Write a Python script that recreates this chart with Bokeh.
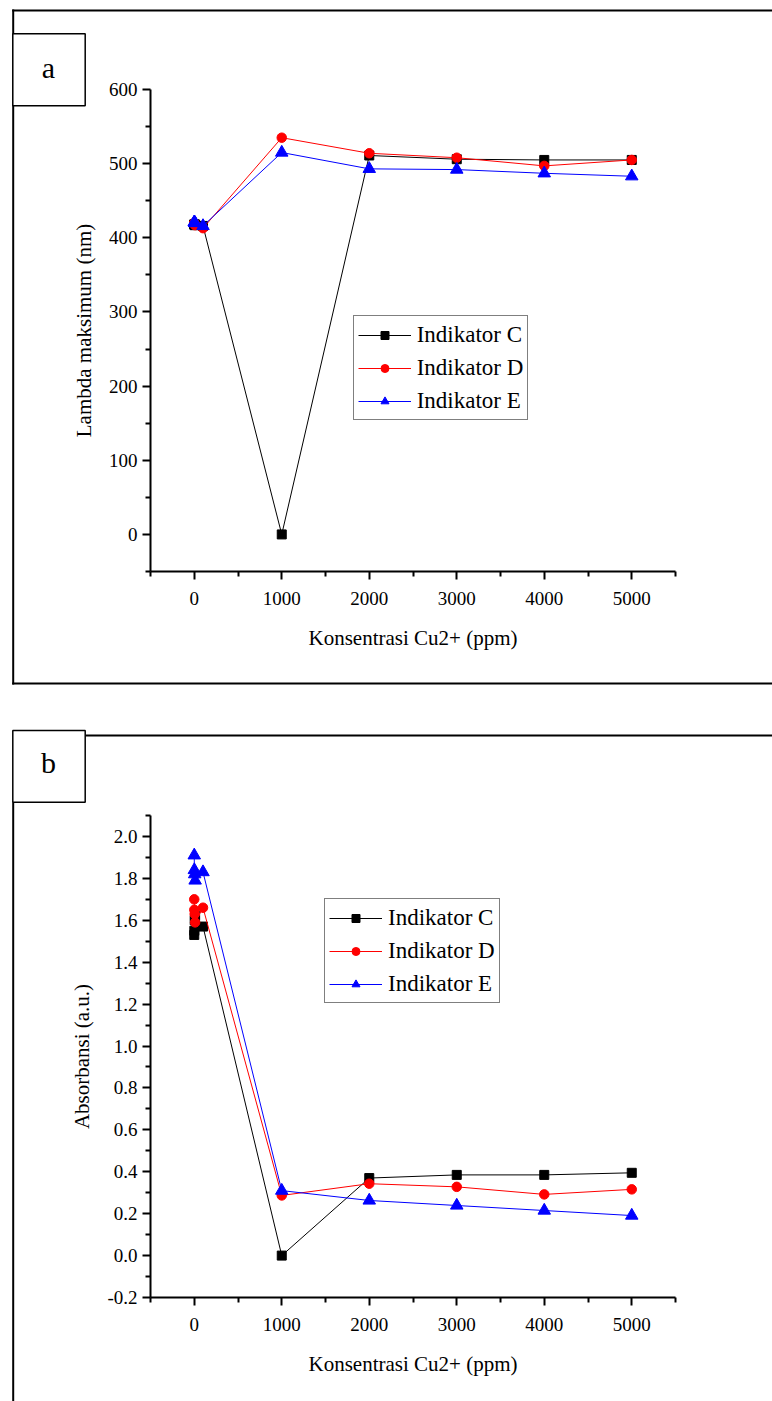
from bokeh.plotting import figure
from bokeh.models import (Range1d, FixedTicker, PrintfTickFormatter, Legend,
                          LegendItem)
from bokeh.core.properties import value
from bokeh.layouts import column
from bokeh.embed import file_html
from bokeh.resources import INLINE

# ---------------- data ----------------
conc = [0, 1, 5, 10, 100, 1000, 2000, 3000, 4000, 5000]

lambda_c = [418, 418, 417, 418, 416, 0, 511, 506, 505, 505]
lambda_d = [420, 419, 418, 417, 413, 535, 514, 508, 497, 505]
lambda_e = [421, 421, 420, 420, 416, 515, 493, 492, 487, 483]

abs_c = [1.53, 1.55, 1.60, 1.62, 1.57, 0.0, 0.37, 0.385, 0.385, 0.395]
abs_d = [1.70, 1.65, 1.63, 1.59, 1.66, 0.287, 0.343, 0.328, 0.292, 0.316]
abs_e = [1.91, 1.84, 1.82, 1.79, 1.83, 0.31, 0.263, 0.239, 0.215, 0.191]

series_names = ["Indikator C", "Indikator D", "Indikator E"]
series_colors = ["black", "red", "blue"]
series_markers = ["square", "circle", "triangle"]
marker_sizes = [9, 9.5, 12.5]

x_bounds = (-500, 5500)
x_major = [0, 1000, 2000, 3000, 4000, 5000]
x_minor = [-500, 500, 1500, 2500, 3500, 4500, 5500]
ya_bounds = (-50, 600)
ya_major = [0, 100, 200, 300, 400, 500, 600]
ya_minor = [-50, 50, 150, 250, 350, 450, 550]
yb_bounds = (-0.2, 2.1)
yb_major = [-0.2, 0.0, 0.2, 0.4, 0.6, 0.8, 1.0, 1.2, 1.4, 1.6, 1.8, 2.0]
yb_minor = [-0.1, 0.1, 0.3, 0.5, 0.7, 0.9, 1.1, 1.3, 1.5, 1.7, 1.9, 2.1]

FONT = "Liberation Serif"
W = 772
LEFT, RIGHT = 150, 675   # plot-area pixel edges (x)


def make_panel(height, top, bottom, ybounds, ymaj, ymin, yfmt, ylabel,
               ys, legend_loc, letter, letter_pos, decos):
    # ranges chosen so that the data area sits at the wanted pixels while the
    # frame covers the whole canvas (axes are fixed inside it)
    sx = (x_bounds[1] - x_bounds[0]) / (RIGHT - LEFT)
    xr = Range1d(x_bounds[0] - LEFT * sx, x_bounds[1] + (W - RIGHT) * sx)
    sy = (ybounds[1] - ybounds[0]) / (bottom - top)
    yr = Range1d(ybounds[0] - (height - bottom) * sy, ybounds[1] + top * sy)

    p = figure(width=W, height=height, output_backend="svg",
               toolbar_location=None, x_range=xr, y_range=yr,
               min_border=0)
    p.outline_line_color = None
    p.grid.visible = False
    p.background_fill_color = None
    p.border_fill_color = None
    p.extra_x_ranges = {"cx": Range1d(0, W)}
    p.extra_y_ranges = {"cy": Range1d(height, 0)}

    p.xaxis.fixed_location = ybounds[0]
    p.yaxis.fixed_location = x_bounds[0]
    p.xaxis.bounds = x_bounds
    p.yaxis.bounds = ybounds
    p.xaxis.ticker = FixedTicker(ticks=x_major, minor_ticks=x_minor)
    p.yaxis.ticker = FixedTicker(ticks=ymaj, minor_ticks=ymin)
    p.yaxis.formatter = PrintfTickFormatter(format=yfmt)
    p.xaxis.formatter = PrintfTickFormatter(format="%d")
    p.xaxis.axis_label = "Konsentrasi Cu2+ (ppm)"
    p.yaxis.axis_label = ylabel
    for ax in (p.xaxis, p.yaxis):
        ax.axis_line_width = 2
        ax.axis_line_color = "black"
        ax.major_tick_line_width = 2
        ax.major_tick_line_color = "black"
        ax.minor_tick_line_width = 2
        ax.minor_tick_line_color = "black"
        ax.major_tick_out = 8
        ax.major_tick_in = 0
        ax.minor_tick_out = 5
        ax.minor_tick_in = 0
        ax.major_label_text_font = FONT
        ax.major_label_text_font_size = "19px"
        ax.major_label_text_color = "black"
        ax.axis_label_text_font = FONT
        ax.axis_label_text_font_size = "21px"
        ax.axis_label_text_font_style = "normal"
        ax.axis_label_text_color = "black"
    p.xaxis.major_label_standoff = 12
    p.xaxis.axis_label_standoff = 18
    p.yaxis.major_label_standoff = 5
    p.yaxis.axis_label_standoff = 10

    # decorations (canvas pixel coordinates, y downward)
    for (l, t, r, b, fill, lw) in decos:
        p.quad(left=l, right=r, top=t, bottom=b, x_range_name="cx",
               y_range_name="cy", fill_color=fill,
               line_color="black" if lw else None, line_width=lw if lw else 1)
    p.text(x=[letter_pos[0]], y=[letter_pos[1]], text=[letter],
           x_range_name="cx", y_range_name="cy", text_align="center",
           text_baseline="middle", text_font=value(FONT),
           text_font_size="30px", text_color="black")

    items = []
    for name, col, mk, ms, vals in zip(series_names, series_colors,
                                       series_markers, marker_sizes, ys):
        lr = p.line(conc, vals, line_color=col, line_width=1)
        mr = p.scatter(conc, vals, marker=mk, size=ms, fill_color=col,
                       line_color=col)
        items.append(LegendItem(label=name, renderers=[lr, mr]))

    legend = Legend(items=items, location=legend_loc, margin=0, padding=4,
                    spacing=4, label_height=29, glyph_height=20,
                    glyph_width=53, label_standoff=6,
                    label_text_font=FONT, label_text_font_size="23px",
                    label_text_color="black",
                    border_line_color="black", border_line_width=1,
                    background_fill_alpha=0)
    p.add_layout(legend)
    return p


# decorations: (left, top, right, bottom, fill, line_width) in canvas px
decos_a = [
    (11.7, 9, 780, 11, "black", 0),      # top border line
    (11.7, 9, 13.7, 684, "black", 0),    # left border line
    (11.7, 682, 780, 684, "black", 0),   # bottom border line
    (12.3, 33.3, 84.7, 105.3, "white", 1.5),  # letter box
]
decos_b = [
    (84.7, 34, 780, 36, "black", 0),
    (11.7, 101.7, 13.7, 710, "black", 0),
    (12.3, 30, 84.7, 101.7, "white", 1.5),
]

pa = make_panel(700, 89, 571, ya_bounds, ya_major, ya_minor, "%d",
                "Lambda maksimum (nm)", [lambda_c, lambda_d, lambda_e],
                (352.7, 280), "a", (48, 67), decos_a)
pb = make_panel(701, 115, 597, yb_bounds, yb_major, yb_minor, "%.1f",
                "Absorbansi (a.u.)", [abs_c, abs_d, abs_e],
                (324, 398), "b", (48, 62), decos_b)

layout = column(pa, pb, spacing=0)
open("out.html", "w").write(file_html(layout, INLINE))
